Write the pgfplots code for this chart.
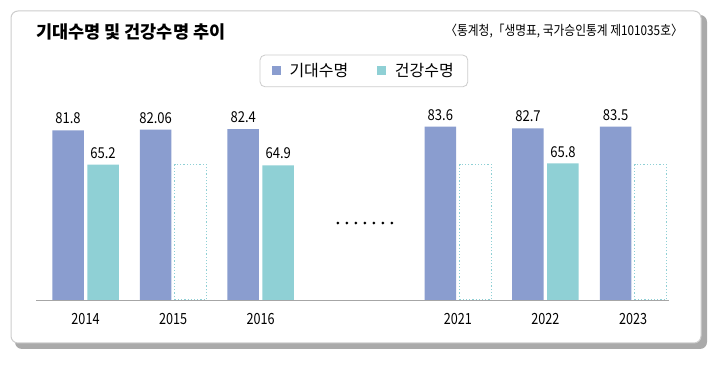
\documentclass[border=0pt]{standalone}
\usepackage{fontspec}
\setmainfont{Noto Sans CJK KR}
\newfontfamily\narrow[FakeStretch=0.82]{Noto Sans CJK KR}
\newfontfamily\narrowb[FakeStretch=0.87]{Noto Sans CJK KR}
\usepackage{pgfplots}
\pgfplotsset{compat=1.18}
\definecolor{cblue}{RGB}{138,157,207}
\definecolor{ccyan}{RGB}{143,208,213}
\definecolor{frame}{RGB}{205,205,205}
\definecolor{shadowc}{RGB}{170,170,170}
\begin{document}
\begin{tikzpicture}[x=1pt,y=1pt]
\path[use as bounding box] (0,0) rectangle (720,369);
\fill[shadowc, rounded corners=7pt] (15,20) rectangle (707,354);
\filldraw[fill=white, draw=frame, line width=1pt, rounded corners=7pt] (11,26) rectangle (701,358);
\node[anchor=west, inner sep=0pt, font=\fontsize{17.5}{19}\selectfont\bfseries] at (36,337) {기대수명 및 건강수명 추이};
\node[anchor=east, inner sep=0pt, font=\narrowb\fontsize{13.5}{15}\selectfont] at (683,338) {〈통계청,「생명표, 국가승인통계 제101035호〉};
\begin{axis}[
  at={(36pt,69pt)}, anchor=south west,
  scale only axis, width=633pt, height=207.5pt,
  xmin=-0.565, xmax=6.66, ymin=0, ymax=100,
  clip=false,
  ybar, bar width=31.5pt,
  axis x line*=bottom, axis y line=none,
  x axis line style={-, draw=gray!70, line width=0.9pt},
  xtick={0,1,2,4.25,5.25,6.25},
  xticklabels={2014,2015,2016,2021,2022,2023},
  xtick style={draw=none},
  xticklabel style={font=\narrow\fontsize{15.4}{16}\selectfont, inner sep=0pt, anchor=north, yshift=-9pt},
  /pgf/number format/assume math mode=true,
  every node near coord/.append style={font=\narrowb\fontsize{15}{16}\selectfont, inner sep=0pt, anchor=south, yshift=6pt},
  legend style={at={(0.518,1.104)}, anchor=center, draw=frame, rounded corners=5pt, line width=0.8pt,
    font=\fontsize{16}{18}\selectfont, inner xsep=12pt, inner ysep=6.5pt,
    /tikz/every odd column/.append style={column sep=7pt},
    /tikz/every even column/.append style={column sep=27pt}},
  legend columns=2,
]
\addplot[ybar, bar shift=-17.5pt, fill=cblue, draw=none, nodes near coords,
  legend image code/.code={\fill[cblue, sharp corners] (0pt,-4pt) rectangle (8.5pt,4.5pt);}]
  coordinates {(0,81.8) (1,82.06) (2,82.4) (4.25,83.6) (5.25,82.7) (6.25,83.5)};
\addlegendentry{기대수명}
\addplot[ybar, bar shift=17.5pt, fill=ccyan, draw=none, nodes near coords,
  legend image code/.code={\fill[ccyan, sharp corners] (0pt,-4pt) rectangle (8.5pt,4.5pt);}]
  coordinates {(0,65.2) (2,64.9) (5.25,65.8)};
\addlegendentry{건강수명}
\addplot[ybar, bar shift=17.5pt, fill=none, draw=ccyan, line width=1pt,
  dash pattern=on 1.2pt off 2pt, forget plot]
  coordinates {(1,65.3) (4.25,65.3) (6.25,65.3)};
\draw[line width=3pt, line cap=round, dash pattern=on 0pt off 9pt] (axis cs:2.88,37.1) -- (axis cs:3.505,37.1);
\end{axis}
\end{tikzpicture}
\end{document}
